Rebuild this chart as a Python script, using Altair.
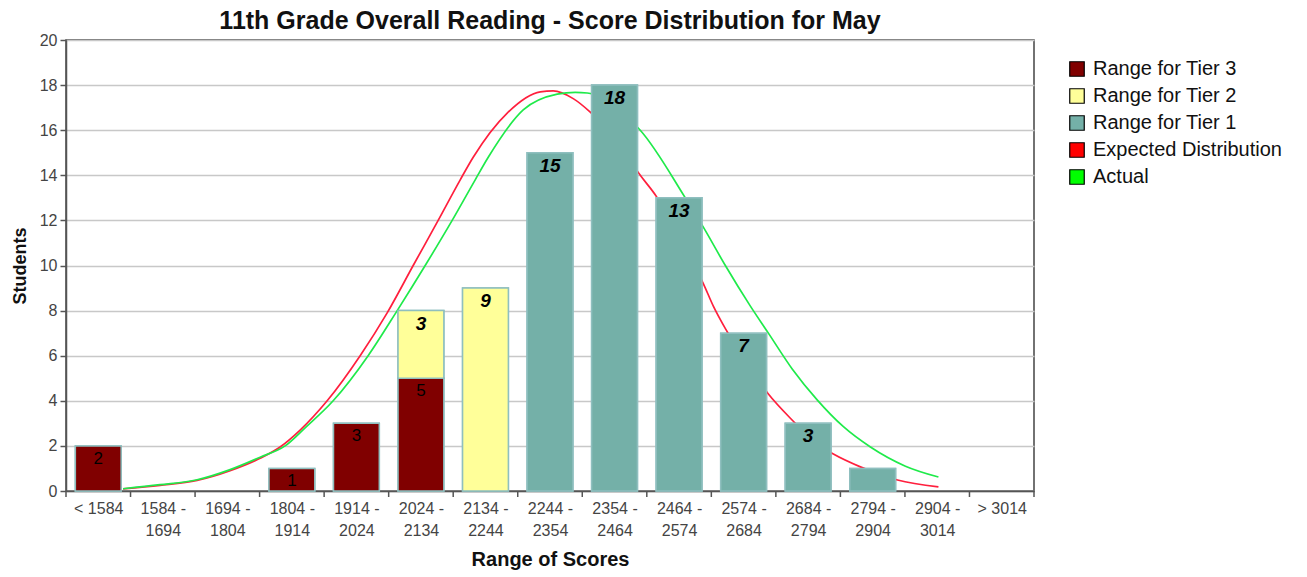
import json
import altair as alt
import pandas as pd

categories = ["< 1584", "1584 - 1694", "1694 - 1804", "1804 - 1914", "1914 - 2024",
              "2024 - 2134", "2134 - 2244", "2244 - 2354", "2354 - 2464", "2464 - 2574",
              "2574 - 2684", "2684 - 2794", "2794 - 2904", "2904 - 3014", "> 3014"]
tier3 = [2, 0, 0, 1, 3, 5, 0, 0, 0, 0, 0, 0, 0, 0, 0]
tier2 = [0, 0, 0, 0, 0, 3, 9, 0, 0, 0, 0, 0, 0, 0, 0]
tier1 = [0, 0, 0, 0, 0, 0, 0, 15, 18, 13, 7, 3, 1, 0, 0]
# which tier-1 bars carry a value label (the "1" bar has none in the original)
tier1_labelled = [0, 0, 0, 0, 0, 0, 0, 1, 1, 1, 1, 1, 0, 0, 0]

series_names = ["Range for Tier 3", "Range for Tier 2", "Range for Tier 1",
                "Expected Distribution", "Actual"]
series_colors = ["#800000", "#FFFF99", "#74B0A8", "#FF0000", "#00FF00"]
line_colors = ["#FF1F3D", "#1FEA4A"]

# curves: position in category units (0 = left edge of first range, 15 = right edge)
expected_pos = [0.884, 1.457, 2.031, 2.543, 3.008, 3.318, 3.628, 4.047, 4.558, 4.977,
                5.380, 5.767, 6.109, 6.310, 6.837, 7.349, 7.550, 7.860, 8.124, 8.512,
                8.899, 9.163, 9.519, 9.876, 10.031, 10.248, 10.558, 10.884, 11.302,
                11.581, 11.891, 12.310, 12.884, 13.519]
expected_val = [0.09, 0.25, 0.47, 0.9, 1.45, 1.95, 2.7, 4.0, 6.0, 7.9,
                10.0, 12.0, 13.8, 14.8, 16.76, 17.7, 17.74, 17.4, 16.8, 15.6,
                14.0, 13.0, 11.1, 9.2, 8.2, 7.05, 5.6, 4.3, 3.0,
                2.2, 1.64, 1.07, 0.49, 0.18]
actual_pos = [0.884, 1.457, 2.031, 2.543, 3.008, 3.395, 3.705, 4.140, 4.682, 5.132,
              5.566, 5.984, 6.341, 6.543, 7.085, 7.612, 7.891, 8.078, 8.512, 8.899,
              9.597, 9.876, 10.217, 10.605, 10.884, 11.256, 11.643, 12.047, 12.465,
              13.008, 13.519]
actual_val = [0.1, 0.28, 0.5, 0.95, 1.5, 2.0, 2.8, 4.0, 6.0, 8.0,
              10.0, 12.0, 13.8, 14.8, 16.9, 17.6, 17.68, 17.65, 17.0, 16.0,
              13.0, 11.7, 10.0, 8.2, 7.0, 5.4, 4.03, 2.85, 1.95,
              1.1, 0.62]

FONT = "Liberation Sans"
BAR_HALF = 0.355  # half bar width in category units

# bar segments
rows = []
for i, c in enumerate(categories):
    base = 0
    for name, vals, order in [(series_names[0], tier3, 0), (series_names[1], tier2, 1),
                              (series_names[2], tier1, 2)]:
        v = vals[i]
        if v > 0:
            show = 1
            if name == series_names[2]:
                show = tier1_labelled[i]
            rows.append({"cat": c, "idx": i, "mid": i + 0.5,
                         "x0": i + 0.5 - BAR_HALF, "x1": i + 0.5 + BAR_HALF,
                         "series": name, "value": v, "order": order,
                         "base": base, "top": base + v, "show": show})
            base += v
bars_df = pd.DataFrame(rows)

curve_rows = []
for p, v in zip(expected_pos, expected_val):
    curve_rows.append({"pos": p, "value": v, "series": series_names[3]})
for p, v in zip(actual_pos, actual_val):
    curve_rows.append({"pos": p, "value": v, "series": series_names[4]})
curve_df = pd.DataFrame(curve_rows)

ticks_df = pd.DataFrame({"b": list(range(len(categories) + 1))})

label_expr = ("split(replace(" + json.dumps(categories) +
              "[floor(datum.value)], ' - ', ' -|'), '|')")

x_scale = alt.Scale(domain=[0, len(categories)], nice=False, zero=False)
x_axis = alt.Axis(values=[i + 0.5 for i in range(len(categories))], labelExpr=label_expr,
                  labelAngle=0, labelFont=FONT, labelFontSize=16, labelColor="#444",
                  labelLineHeight=22, labelPadding=9, ticks=False,
                  domainColor="#555", domainWidth=1.5, grid=False,
                  titleFont=FONT, titleFontSize=20, titleFontWeight="bold",
                  titleColor="#111", titlePadding=11, labelFlush=False, labelOverlap=False)

y_scale = alt.Scale(domain=[0, 20], nice=False)
y_axis = alt.Axis(values=list(range(0, 21, 2)), labelFont=FONT, labelFontSize=16,
                  labelColor="#444", tickSize=6, tickColor="#555", tickWidth=1.5,
                  domainColor="#555", domainWidth=1.5, gridColor="#c8c8c8", gridWidth=1.5,
                  titleFont=FONT, titleFontSize=18, titleFontWeight="bold",
                  titleColor="#111", titlePadding=10, labelPadding=3)

color_scale = alt.Scale(domain=series_names, range=series_colors)
legend = alt.Legend(title=None, orient="right", offset=14, symbolType="square",
                    symbolSize=210, symbolStrokeColor="#000", symbolStrokeWidth=1.2,
                    labelFont=FONT, labelFontSize=20, labelColor="#111", labelLimit=400,
                    rowPadding=7, labelOffset=6, padding=19)

# bars first (carries the legend), lines drawn over it, then the same bars again on top,
# so that the curves pass behind the bars as in the original
bars_legend = alt.Chart(bars_df).mark_bar(stroke="#8FBFBF", strokeWidth=1.5).encode(
    x=alt.X("x0:Q", scale=x_scale, axis=x_axis, title="Range of Scores"),
    x2="x1:Q",
    y=alt.Y("base:Q", scale=y_scale, axis=y_axis, title="Students"),
    y2="top:Q",
    color=alt.Color("series:N", scale=color_scale, legend=legend),
)

lines = alt.Chart(curve_df).mark_line(strokeWidth=1.7, interpolate="monotone").encode(
    x=alt.X("pos:Q", scale=x_scale),
    y=alt.Y("value:Q", scale=y_scale),
    stroke=alt.Stroke("series:N", scale=alt.Scale(domain=series_names[3:], range=line_colors),
                      legend=None),
    detail="series:N",
)

bars_top = alt.Chart(bars_df).mark_bar(stroke="#8FBFBF", strokeWidth=1.5).encode(
    x=alt.X("x0:Q", scale=x_scale),
    x2="x1:Q",
    y=alt.Y("base:Q", scale=y_scale),
    y2="top:Q",
    color=alt.Color("series:N", scale=color_scale, legend=legend),
)

ticks = alt.Chart(ticks_df).mark_rule(color="#555", strokeWidth=1.5).encode(
    x=alt.X("b:Q", scale=x_scale),
    y=alt.value(451),
    y2=alt.value(457),
)

lab_plain = alt.Chart(bars_df).transform_filter("datum.order == 0").mark_text(
    baseline="top", dy=5, font=FONT, fontSize=17, color="#000").encode(
    x=alt.X("mid:Q", scale=x_scale),
    y=alt.Y("top:Q", scale=y_scale),
    text="value:Q",
)
lab_italic = alt.Chart(bars_df).transform_filter(
    "datum.order > 0 && datum.show == 1").mark_text(
    baseline="top", dy=4, font=FONT, fontSize=19, fontStyle="italic",
    fontWeight="bold", color="#000").encode(
    x=alt.X("mid:Q", scale=x_scale),
    y=alt.Y("top:Q", scale=y_scale),
    text="value:Q",
)

chart = alt.layer(bars_legend, lines, bars_top, ticks, lab_plain, lab_italic).properties(
    width=968, height=451,
    title=alt.Title("11th Grade Overall Reading - Score Distribution for May",
                    font=FONT, fontSize=25, fontWeight="bold", color="#111",
                    anchor="middle", offset=4, dy=6),
    autosize=alt.AutoSizeParams(type="none"),
    padding={"left": 58, "top": 32, "right": 255, "bottom": 84},
).configure_view(stroke="#444", strokeWidth=1.5)

chart.save("out.html", embed_options={"renderer": "svg", "actions": False})
